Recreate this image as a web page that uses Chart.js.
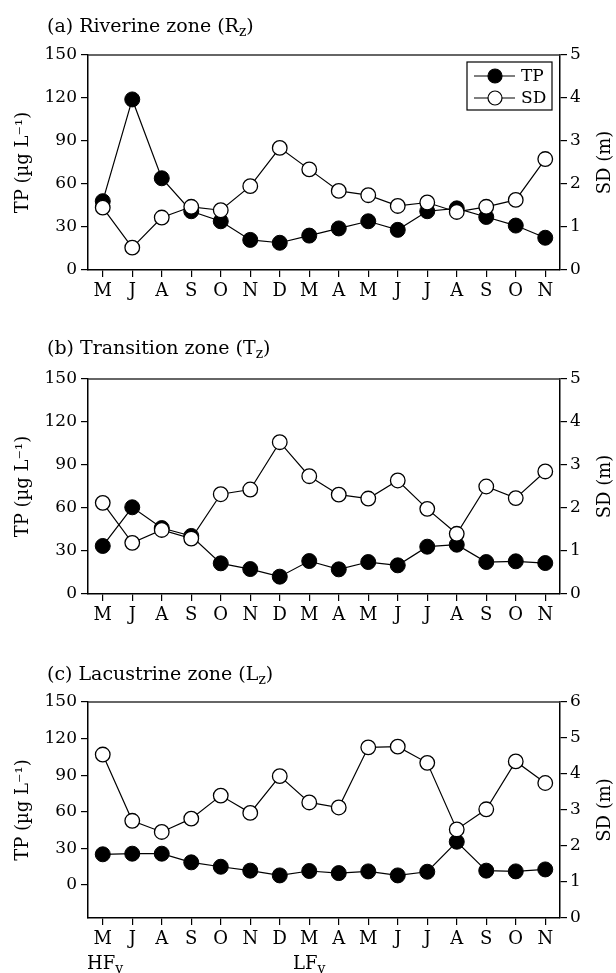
<!DOCTYPE html>
<html>
<head>
<meta charset="utf-8">
<script src="https://cdn.jsdelivr.net/npm/chart.js@4.4.1/dist/chart.umd.min.js"></script>
<style>
    body { margin: 0; background: #fff; }
    #wrap { position: relative; width: 616px; height: 973px; overflow: hidden; font-family: 'DejaVu Serif', serif; color: #000; }
    .panel { position: absolute; left: 0; width: 616px; }
    .title { position: absolute; left: 47px; font-size: 19px; line-height: 22px; white-space: nowrap; }
    .title span, .note span { font-size: 14px; position: relative; top: 4px; }
    .note { position: absolute; font-size: 18px; line-height: 21px; white-space: nowrap; }
</style>
</head>
<body>
<div id="wrap">
    <div class="panel" style="top:0;height:320px"><canvas id="chart_a"></canvas></div>
    <div class="panel" style="top:320px;height:320px"><canvas id="chart_b"></canvas></div>
    <div class="panel" style="top:640px;height:333px"><canvas id="chart_c"></canvas></div>
    <div class="title" style="top:14px">(a) Riverine zone (R<span>z</span>)</div>
    <div class="title" style="top:336px">(b) Transition zone (T<span>z</span>)</div>
    <div class="title" style="top:662px">(c) Lacustrine zone (L<span>z</span>)</div>
    <div class="note" style="top:952px;left:87px">HF<span>v</span></div>
    <div class="note" style="top:952px;left:293px">LF<span>v</span></div>
</div>
<script>
const months = ['M', 'J', 'A', 'S', 'O', 'N', 'D', 'M', 'A', 'M', 'J', 'J', 'A', 'S', 'O', 'N'];

const tpRiverine = [48, 119, 64, 41, 34, 21, 19, 24, 29, 34, 28, 41, 43, 37, 31, 22.5];
const sdRiverine = [1.45, 0.52, 1.22, 1.47, 1.39, 1.95, 2.84, 2.34, 1.84, 1.74, 1.49, 1.57, 1.35, 1.47, 1.63, 2.58];

const tpTransition = [33.5, 60.5, 46, 40.5, 21.4, 17.4, 12.1, 23, 17.2, 22.3, 20, 33, 34.4, 22.3, 22.8, 21.6];
const sdTransition = [2.12, 1.19, 1.49, 1.29, 2.32, 2.43, 3.53, 2.74, 2.31, 2.22, 2.64, 1.98, 1.40, 2.50, 2.23, 2.85];

const tpLacustrine = [25.2, 25.7, 25.7, 18.6, 15, 11.8, 7.9, 11.5, 9.8, 11.2, 7.9, 10.9, 35.5, 11.8, 11.2, 12.8];
const sdLacustrine = [4.54, 2.70, 2.39, 2.76, 3.40, 2.92, 3.94, 3.21, 3.07, 4.74, 4.76, 4.31, 2.46, 3.02, 4.35, 3.75];

const tpTicks = [0, 30, 60, 90, 120, 150];

const FONT = "'DejaVu Serif', serif";

// top frame line, right axis title and (optional) legend box
const framePlugin = {
    id: 'frame',
    afterDraw(chart, args, opts) {
        const ctx = chart.ctx;
        const a = chart.chartArea;
        ctx.save();
        ctx.strokeStyle = '#333';
        ctx.lineWidth = 1.3;
        ctx.beginPath();
        ctx.moveTo(a.left, a.top);
        ctx.lineTo(a.right, a.top);
        ctx.stroke();

        ctx.fillStyle = '#000';
        ctx.font = '18px ' + FONT;
        ctx.textAlign = 'center';
        ctx.textBaseline = 'middle';
        ctx.translate(605, (a.top + a.bottom) / 2);
        ctx.rotate(-Math.PI / 2);
        ctx.fillText('SD (m)', 0, 0);
        ctx.restore();

        if (opts.legend) {
            ctx.save();
            ctx.strokeStyle = '#000';
            ctx.lineWidth = 1.2;
            ctx.strokeRect(467, 62, 85, 48);
            const rows = [['TP', '#000', 76], ['SD', '#fff', 98]];
            ctx.font = '17px ' + FONT;
            ctx.textBaseline = 'middle';
            rows.forEach(([label, fill, y]) => {
                ctx.beginPath();
                ctx.moveTo(474, y);
                ctx.lineTo(515, y);
                ctx.stroke();
                ctx.beginPath();
                ctx.arc(495, y, 7, 0, Math.PI * 2);
                ctx.fillStyle = fill;
                ctx.fill();
                ctx.stroke();
                ctx.fillStyle = '#000';
                ctx.fillText(label, 521, y + 1);
            });
            ctx.restore();
        }
    }
};

function make_chart(id, tp, sd, cfg) {
    const ctx = document.getElementById(id).getContext('2d');
    return new Chart(ctx, {
        type: 'line',
        data: {
            labels: months,
            datasets: [
                {
                    label: 'TP',
                    data: tp,
                    yAxisID: 'y',
                    order: 2,
                    borderColor: '#000',
                    borderWidth: 1.2,
                    pointRadius: 7.5,
                    pointBorderWidth: 1,
                    pointBackgroundColor: '#000',
                    pointBorderColor: '#000'
                },
                {
                    label: 'SD',
                    data: sd,
                    yAxisID: 'y1',
                    order: 1,
                    borderColor: '#000',
                    borderWidth: 1.2,
                    pointRadius: 7.3,
                    pointBorderWidth: 1.3,
                    pointBackgroundColor: '#fff',
                    pointBorderColor: '#000'
                }
            ]
        },
        options: {
            responsive: false,
            animation: false,
            maintainAspectRatio: false,
            layout: { autoPadding: false, padding: { top: cfg.top, left: 0, right: 0, bottom: 0 } },
            plugins: {
                legend: { display: false },
                tooltip: { enabled: false },
                frame: { legend: cfg.legend }
            },
            scales: {
                x: {
                    offset: true,
                    grid: { display: true, drawOnChartArea: false, offset: false, tickLength: 7, color: '#000', lineWidth: 1.2 },
                    border: { color: '#000', width: 1.5 },
                    ticks: { color: '#000', padding: 4, font: { family: FONT, size: 18 }, autoSkip: false, maxRotation: 0 },
                    afterFit: s => { s.height = cfg.xHeight; }
                },
                y: {
                    position: 'left',
                    min: cfg.tpMin,
                    max: 150,
                    afterBuildTicks: s => { s.ticks = tpTicks.map(v => ({ value: v })); },
                    grid: { drawOnChartArea: false, tickLength: 7, color: '#000', lineWidth: 1.2 },
                    border: { color: '#000', width: 1.5 },
                    ticks: { color: '#000', padding: 4, font: { family: FONT, size: 17 } },
                    title: { display: true, text: 'TP (µg L⁻¹)', color: '#000', font: { family: FONT, size: 18 }, padding: { top: 13, bottom: 0 } },
                    afterFit: s => { s.width = 88; }
                },
                y1: {
                    position: 'right',
                    min: 0,
                    max: cfg.sdMax,
                    ticks: { stepSize: 1, color: '#000', padding: 3, font: { family: FONT, size: 17 } },
                    grid: { drawOnChartArea: false, tickLength: 7, color: '#000', lineWidth: 1.2 },
                    border: { color: '#000', width: 1.5 },
                    afterFit: s => { s.width = 56; }
                }
            }
        },
        plugins: [framePlugin]
    });
}

function sizeCanvas(id, h) {
    const c = document.getElementById(id);
    c.width = 616;
    c.height = h;
    c.style.width = '616px';
    c.style.height = h + 'px';
}

sizeCanvas('chart_a', 320);
sizeCanvas('chart_b', 320);
sizeCanvas('chart_c', 333);

make_chart('chart_a', tpRiverine, sdRiverine, { top: 55, xHeight: 50, tpMin: 0, sdMax: 5, legend: true });
make_chart('chart_b', tpTransition, sdTransition, { top: 59, xHeight: 46, tpMin: 0, sdMax: 5, legend: false });
make_chart('chart_c', tpLacustrine, sdLacustrine, { top: 62, xHeight: 55, tpMin: -27, sdMax: 6, legend: false });
</script>
</body>
</html>
